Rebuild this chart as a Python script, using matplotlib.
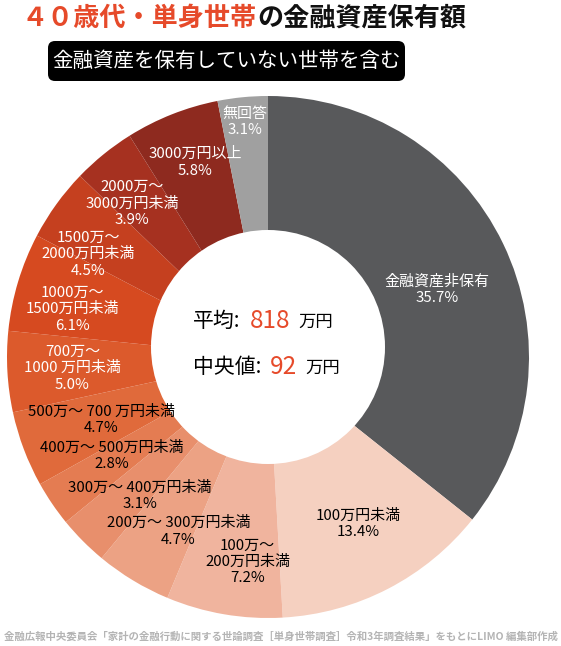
import numpy as np
import matplotlib
matplotlib.use("Agg")
import matplotlib.pyplot as plt
from matplotlib.patches import Circle, FancyBboxPatch

plt.rcParams['font.family'] = ['Noto Sans CJK JP', 'DejaVu Sans']

# data, clockwise from 12 o'clock
categories = ["金融資産非保有", "100万円未満", "100万～\n200万円未満", "200万～ 300万円未満",
              "300万～ 400万円未満", "400万～ 500万円未満", "500万～ 700 万円未満",
              "700万～\n1000 万円未満", "1000万～\n1500万円未満", "1500万～\n2000万円未満",
              "2000万～\n3000万円未満", "3000万円以上", "無回答"]
shares = [35.7, 13.4, 7.2, 4.7, 3.1, 2.8, 4.7, 5.0, 6.1, 4.5, 3.9, 5.8, 3.1]
mean_value = 818
median_value = 92

colors = ["#58595b", "#f5d0c0", "#f0b49e", "#eca284", "#e88f6c", "#e47c52",
          "#e06a3b", "#dc5a2c", "#d64a20", "#c5401f", "#a63120", "#8e2a1f", "#a0a0a0"]
text_colors = ["white", "black", "black", "black", "black", "black", "black",
               "white", "white", "white", "white", "white", "white"]
# label placement: radius (px) and angle tweak (deg) from wedge middle
label_r = [182, 190, 206, 196, 189, 185, 178, 196, 201, 207, 205, 208, 236]
label_dang = [4, -1, -4, -4, -2.5, 2, 0, 0, -3, -6, -2.5, 1, 0]

W, H = 561, 646
cx, cy, R = 268, 357, 261
orange = "#e64a2a"

fig = plt.figure(figsize=(W / 100, H / 100), dpi=100)
ax = fig.add_axes([0, 0, 1, 1])


def py(y):
    return H - y


wedges, _ = ax.pie(shares, colors=colors, startangle=90, counterclock=False,
                   center=(cx, py(cy)), radius=R,
                   wedgeprops=dict(linewidth=0, edgecolor="none"))
ax.set_xlim(0, W)
ax.set_ylim(0, H)
ax.set_aspect("equal")
ax.axis("off")

# hole
ax.add_patch(Circle((cx, py(347)), 117, facecolor="white", edgecolor="none", zorder=3))

# wedge labels
cum = np.cumsum([0] + shares)
for i, (cat, s) in enumerate(zip(categories, shares)):
    mid = (cum[i] + cum[i + 1]) / 2 / 100 * 360 + label_dang[i]
    a = np.deg2rad(mid)
    tx = cx + label_r[i] * np.sin(a)
    ty = cy - label_r[i] * np.cos(a)
    ax.text(tx, py(ty), f"{cat}\n{s:.1f}%", ha="center", va="center",
            fontsize=10.8, color=text_colors[i], linespacing=1.22, zorder=4)

# centre text
ax.text(193, py(321), "平均:", fontsize=15, ha="left", va="center", zorder=5)
ax.text(250, py(321), f"{mean_value}", fontsize=17.5, color=orange, ha="left", va="center", zorder=5)
ax.text(298, py(322), "万円", fontsize=12.5, ha="left", va="center", zorder=5)
ax.text(193, py(367), "中央値:", fontsize=15, ha="left", va="center", zorder=5)
ax.text(270, py(367), f"{median_value}", fontsize=17.5, color=orange, ha="left", va="center", zorder=5)
ax.text(305, py(368), "万円", fontsize=12.5, ha="left", va="center", zorder=5)

# title
t1 = ax.text(22, py(18), "４０歳代・単身世帯", fontsize=18.8, fontweight="bold",
             color=orange, ha="left", va="center")
fig.canvas.draw()
bb = t1.get_window_extent()
ax.text(bb.x1, py(18), "の金融資産保有額", fontsize=18.8, fontweight="bold",
        color="#111111", ha="left", va="center")

# subtitle box
ax.add_patch(FancyBboxPatch((48, py(81)), 357, 40, boxstyle="round,pad=0,rounding_size=7",
                            facecolor="black", edgecolor="none"))
ax.text(226.5, py(61), "金融資産を保有していない世帯を含む", fontsize=14.8,
        color="white", ha="center", va="center")

# source
ax.text(W / 2, py(637), "金融広報中央委員会「家計の金融行動に関する世論調査［単身世帯調査］令和3年調査結果」をもとにLIMO 編集部作成",
        fontsize=7.5, color="#b4b4b4", fontweight="bold", ha="center", va="center")

fig.savefig("out.png", dpi=100, facecolor="white")
